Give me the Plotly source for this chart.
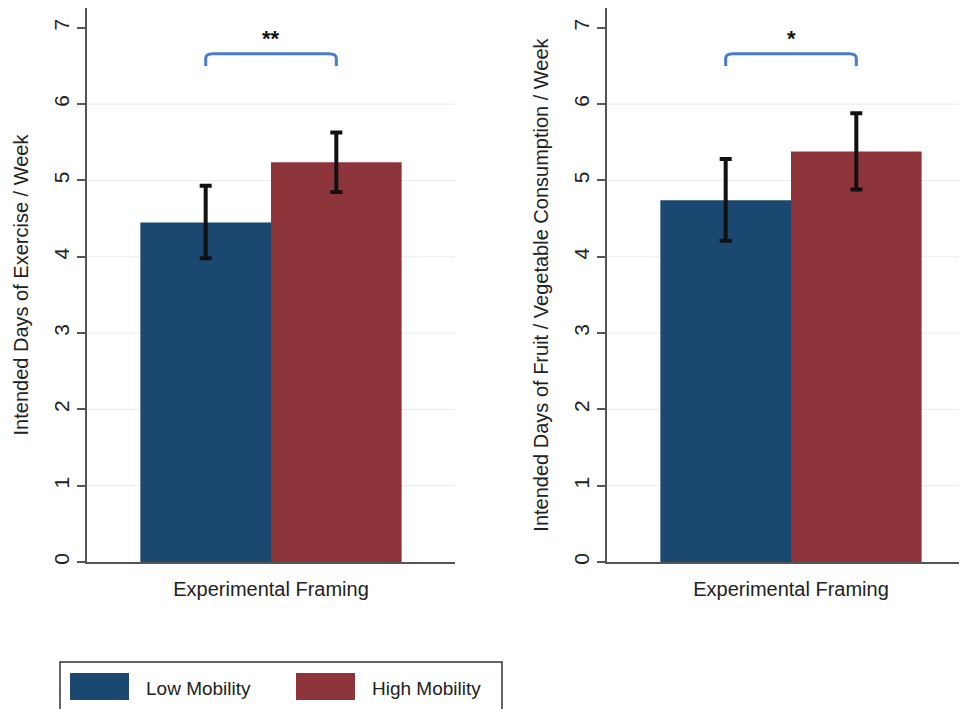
import plotly.graph_objects as go

categories = ["Experimental Framing"]
series_names = ["Low Mobility", "High Mobility"]

# Panel 1: exercise
ex_mean = [4.45, 5.24]
ex_low = [3.98, 4.85]
ex_high = [4.93, 5.63]
# Panel 2: fruit / vegetable consumption
fv_mean = [4.74, 5.38]
fv_low = [4.21, 4.88]
fv_high = [5.28, 5.88]

stars = ["**", "*"]
y_titles = ["Intended Days of Exercise / Week",
            "Intended Days of Fruit / Vegetable Consumption / Week"]
y_ticks = [0, 1, 2, 3, 4, 5, 6, 7]
grid_vals = [1, 2, 3, 4, 5, 6]

colors = ["#1b4870", "#8e353b"]
bracket_color = "#4a7bcf"
FONT = "Liberation Sans, Arial, sans-serif"
W, H = 967, 709
OFF = 8  # page body margin
BARGAP = 0.29


def px(x):
    return (x - OFF) / W


def py(y):
    return (H + OFF - y) / H


fig = go.Figure()

panels = [(ex_mean, ex_low, ex_high, "x", "y"), (fv_mean, fv_low, fv_high, "x2", "y2")]
shapes = []
for mean, low, high, xa, ya in panels:
    for g in grid_vals:
        shapes.append(dict(type="line", xref=f"{xa} domain", yref=ya, x0=0, x1=1,
                           y0=g, y1=g, line=dict(color="#ececec", width=1), layer="below"))
    for i, name in enumerate(series_names):
        fig.add_trace(go.Bar(
            x=categories, y=[mean[i]], name=name, xaxis=xa, yaxis=ya,
            marker=dict(color=colors[i], line=dict(width=0)),
            offsetgroup=str(i), showlegend=False,
            error_y=dict(type="data", symmetric=False,
                         array=[high[i] - mean[i]], arrayminus=[mean[i] - low[i]],
                         color="#111111", thickness=4, width=6),
        ))

# significance brackets
half = (1 - BARGAP) / 4
annotations = []
for k, (xa, ya) in enumerate([("x", "y"), ("x2", "y2")]):
    y0, y1 = 6.5, 6.66
    r = 0.02
    path = (f"M {-half},{y0} L {-half},{y1 - 0.06} Q {-half},{y1} {-half + r},{y1} "
            f"L {half - r},{y1} Q {half},{y1} {half},{y1 - 0.06} L {half},{y0}")
    shapes.append(dict(type="path", path=path, xref=xa, yref=ya,
                       line=dict(color=bracket_color, width=3)))
    annotations.append(dict(x=0, y=6.86, xref=xa, yref=ya, text=f"<b>{stars[k]}</b>",
                            showarrow=False, font=dict(family=FONT, size=22, color="#111"),
                            yanchor="middle"))

# manual legend (large swatches, box cut at bottom as in reference)
shapes.append(dict(type="rect", xref="paper", yref="paper",
                   x0=px(60), x1=px(502), y0=py(760), y1=py(662),
                   line=dict(color="#333333", width=1.5), fillcolor="white", layer="below"))
sw = [(70, 129), (296, 355)]
tx = [144, 370]
for i, name in enumerate(series_names):
    shapes.append(dict(type="rect", xref="paper", yref="paper",
                       x0=px(sw[i][0]), x1=px(sw[i][1]), y0=py(700), y1=py(673),
                       line=dict(width=0), fillcolor=colors[i]))
    annotations.append(dict(x=px(tx[i]), y=py(688), xref="paper", yref="paper",
                            text=name, showarrow=False, xanchor="left", yanchor="middle",
                            font=dict(family=FONT, size=19, color="#222")))

yaxis_common = dict(range=[0, 7.26], tickvals=y_ticks, tickangle=-90,
                    ticks="outside", ticklen=8, tickwidth=1.5, tickcolor="#555",
                    showline=True, linecolor="#555", linewidth=1.5,
                    showgrid=False, zeroline=False, automargin=False,
                    tickfont=dict(family=FONT, size=21, color="#222"),
                    domain=[py(562), py(8)])
xaxis_common = dict(type="category", range=[-0.5, 0.5], showline=True, linecolor="#555",
                    linewidth=1.5, ticks="outside", ticklen=8, tickcolor="rgba(0,0,0,0)",
                    showgrid=False, zeroline=False, automargin=False,
                    tickfont=dict(family=FONT, size=20, color="#222"))

fig.update_layout(
    width=W, height=H,
    margin=dict(l=0, r=0, t=0, b=0),
    paper_bgcolor="white", plot_bgcolor="white",
    barmode="group", bargap=BARGAP, bargroupgap=0,
    showlegend=False,
    xaxis=dict(xaxis_common, domain=[px(87), px(455)], anchor="y"),
    xaxis2=dict(xaxis_common, domain=[px(607), 1.0], anchor="y2"),
    yaxis=dict(yaxis_common, anchor="x",
               title=dict(text=y_titles[0], standoff=16,
                          font=dict(family=FONT, size=20, color="#222"))),
    yaxis2=dict(yaxis_common, anchor="x2",
                title=dict(text=y_titles[1], standoff=16,
                           font=dict(family=FONT, size=20, color="#222"))),
    shapes=shapes, annotations=annotations,
)

fig.write_html("out.html")
